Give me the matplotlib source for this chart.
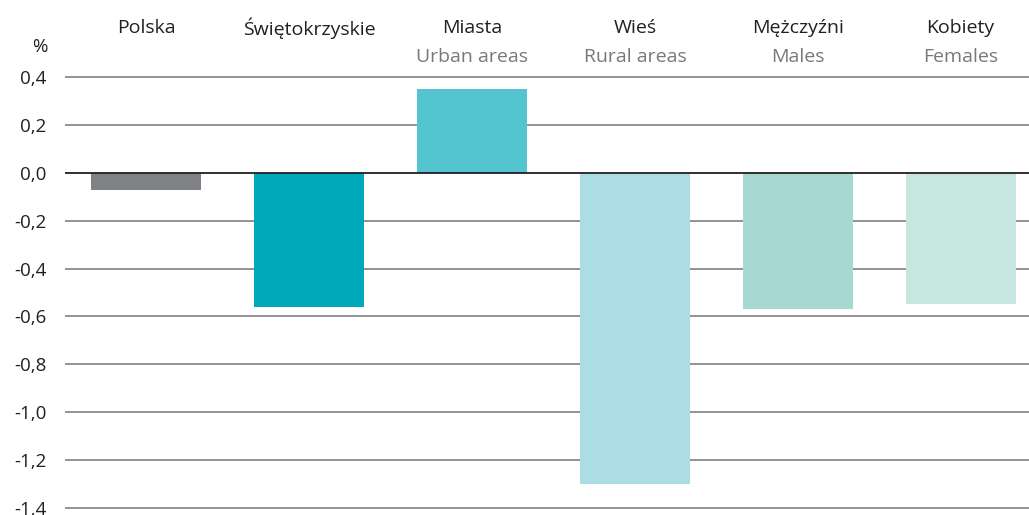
import matplotlib.pyplot as plt
from matplotlib.transforms import blended_transform_factory

plt.rcParams['font.family'] = ['Open Sans', 'DejaVu Sans']

# data
labels_pl = ['Polska', 'Świętokrzyskie', 'Miasta', 'Wieś', 'Mężczyźni', 'Kobiety']
labels_en = ['', '', 'Urban areas', 'Rural areas', 'Males', 'Females']
values = [-0.07, -0.56, 0.35, -1.30, -0.57, -0.55]
colors = ['#808184', '#00a9ba', '#54c5d0', '#acdde4', '#a5d9d1', '#c7e6e0']
yticks = [0.4, 0.2, 0.0, -0.2, -0.4, -0.6, -0.8, -1.0, -1.2, -1.4]

fig = plt.figure(figsize=(10.29, 5.15), dpi=100)
ax = fig.add_axes([65 / 1029, 6 / 515, 964 / 1029, 433 / 515])

x = list(range(len(values)))
ax.bar(x, values, width=0.675, color=colors, zorder=3)

# gridlines
for t in yticks:
    if t == 0:
        ax.axhline(t, color='#231f20', lw=1.3, zorder=4)
    else:
        ax.axhline(t, color='#7f7f7f', lw=1.2, zorder=1)

ax.set_xlim(-0.5, 5.42)
ax.set_ylim(-1.405, 0.405)
ax.set_yticks(yticks)
ax.set_yticklabels([f'{t:.1f}'.replace('.', ',') for t in yticks])
ax.tick_params(axis='y', length=0, pad=13.5, labelsize=13.5, labelcolor='#231f20')
ax.set_xticks([])
for s in ax.spines.values():
    s.set_visible(False)

# category labels above the plot
tr = blended_transform_factory(ax.transData, fig.transFigure)
for i in x:
    ax.text(i, 1 - 28 / 515, labels_pl[i], transform=tr, ha='center', va='center',
            fontsize=14, color='#231f20')
    if labels_en[i]:
        ax.text(i, 1 - 57 / 515, labels_en[i], transform=tr, ha='center', va='center',
                fontsize=14, color='#77787b')

fig.text(40 / 1029, 1 - 47 / 515, '%', ha='center', va='center', fontsize=13.5, color='#231f20')

plt.savefig('out.png', dpi=100)
